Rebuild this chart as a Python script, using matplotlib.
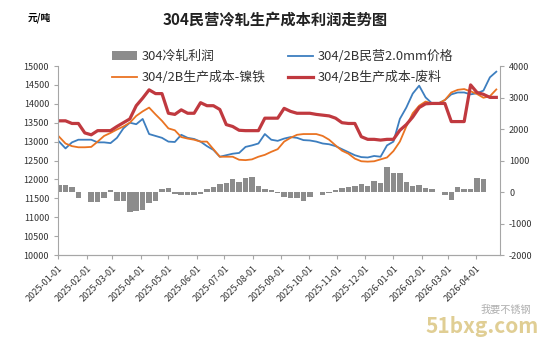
import pandas as pd
import numpy as np
import matplotlib
matplotlib.use("Agg")
import matplotlib.pyplot as plt
import matplotlib.dates as mdates
from matplotlib.patches import Patch
from matplotlib.lines import Line2D

plt.rcParams['font.family'] = ['Noto Sans CJK SC', 'DejaVu Sans']
plt.rcParams['axes.unicode_minus'] = False

# weekly readings, 2025-01-02 .. 2026-04-23
dates = pd.date_range("2025-01-02", periods=69, freq="7D")

price_2b = [13000, 12820, 12980, 13050, 13050, 13050, 12980, 12980, 12960, 13100,
            13350, 13500, 13460, 13600, 13200, 13150, 13100, 13000, 12990, 13180,
            13100, 13070, 13000, 12880, 12780, 12600, 12640, 12680, 12700, 12860,
            12900, 12950, 13200, 13050, 13020, 13080, 13120, 13100, 13040, 13030,
            13000, 12950, 12930, 12880, 12800, 12720, 12640, 12590, 12580, 12620,
            12600, 12900, 13000, 13600, 13900, 14270, 14480, 14170, 14010, 14010,
            14100, 14250, 14300, 14300, 14250, 14280, 14350, 14700, 14850]

cost_nife = [13130, 12950, 12880, 12850, 12850, 12860, 13000, 13150, 13230, 13320,
             13400, 13500, 13680, 13800, 13900, 13720, 13550, 13350, 13300, 13120,
             13080, 13050, 13000, 13000, 12800, 12600, 12600, 12600, 12520, 12510,
             12530, 12600, 12650, 12730, 12800, 13000, 13100, 13180, 13200, 13200,
             13200, 13150, 13050, 12900, 12760, 12680, 12550, 12480, 12470, 12480,
             12530, 12580, 12750, 13000, 13400, 13750, 13950, 14060, 14010, 14010,
             14100, 14300, 14370, 14390, 14330, 14260, 14160, 14200, 14380]

cost_scrap = [13550, 13550, 13480, 13480, 13230, 13180, 13290, 13290, 13290, 13400,
              13500, 13600, 13950, 14150, 14370, 14270, 14270, 13750, 13720, 13840,
              13750, 13750, 14030, 13950, 13950, 13850, 13450, 13400, 13300, 13290,
              13290, 13290, 13620, 13620, 13620, 13880, 13800, 13750, 13750, 13750,
              13720, 13700, 13680, 13620, 13500, 13480, 13480, 13130, 13060, 13060,
              13040, 13060, 13060, 13300, 13450, 13650, 13900, 14000, 14010, 14010,
              14010, 13530, 13530, 13530, 14500, 14300, 14250, 14170, 14170]

profit = [230, 220, 150, -200, np.nan, -330, -320, -190, 50, -280,
          -300, -620, -600, -560, -360, -290, 100, 130, -60, -90,
          -100, -100, -60, 100, 160, 250, 300, 400, 330, 430,
          480, 200, 90, 60, -30, -150, -180, -180, -300, -150,
          np.nan, -80, -30, 60, 140, 170, 200, 250, 200, 350,
          280, 780, 600, 600, 330, 200, 230, 120, 90, np.nan,
          -80, -250, 150, 100, 100, 450, 420, np.nan, np.nan]

c_blue = "#3D7EBF"
c_orange = "#EA7322"
c_red = "#C0393F"
c_bar = "#8C8C8C"

fig = plt.figure(figsize=(5.54, 3.53), dpi=100)
ax = fig.add_axes([0.105, 0.2776, 0.7975, 0.5354])
ax2 = ax.twinx()
ax.set_zorder(ax2.get_zorder() + 1)
ax.patch.set_visible(False)

ax2.bar(dates, profit, width=6, color=c_bar, linewidth=0)
ax.plot(dates, price_2b, color=c_blue, lw=1.3)
ax.plot(dates, cost_nife, color=c_orange, lw=1.3)
ax.plot(dates, cost_scrap, color=c_red, lw=2.3)

ax.set_ylim(10000, 15000)
ax.set_yticks(range(10000, 15001, 500))
ax2.set_ylim(-2000, 4000)
ax2.set_yticks(range(-2000, 4001, 1000))
ax.set_xlim(pd.Timestamp("2025-01-01"), pd.Timestamp("2026-04-27"))
ax.xaxis.set_major_locator(mdates.MonthLocator())
ax.xaxis.set_major_formatter(mdates.DateFormatter("%Y-%m-%d"))
for lab in ax.get_xticklabels():
    lab.set_rotation(45)
    lab.set_ha("right")
    lab.set_rotation_mode("anchor")

for a in (ax, ax2):
    for s in a.spines.values():
        s.set_color("#A6A6A6")
    a.spines["top"].set_visible(False)
    a.tick_params(colors="#A6A6A6", labelcolor="#333333", labelsize=6.5, length=3)
ax.spines["right"].set_visible(False)
ax2.spines["left"].set_visible(False)

fig.text(0.497, 0.943, "304民营冷轧生产成本利润走势图", ha="center", va="center",
         fontsize=11, fontweight="bold", color="#222222")
fig.text(0.05, 0.95, "元/吨", ha="left", va="center", fontsize=7, fontweight="bold")

handles = [Patch(facecolor=c_bar), Line2D([], [], color=c_orange, lw=1.3),
           Line2D([], [], color=c_blue, lw=1.3), Line2D([], [], color=c_red, lw=2.3)]
labels = ["304冷轧利润", "304/2B生产成本-镍铁", "304/2B民营2.0mm价格", "304/2B生产成本-废料"]
fig.legend(handles, labels, ncol=2, loc="upper left", bbox_to_anchor=(0.182, 0.89),
           frameon=False, fontsize=9.3, handlelength=1.9, handletextpad=0.4,
           columnspacing=1.7, labelspacing=0.6, labelcolor="#333333")

fig.text(0.768, 0.058, "51bxg.com", fontsize=15, fontweight="bold", style="italic",
         color="#D9C27A", alpha=0.8, va="baseline")
fig.text(0.868, 0.113, "我要不锈钢", fontsize=7.3, color="#9A9A9A", alpha=0.8, va="baseline")

fig.savefig("out.png", dpi=100)
